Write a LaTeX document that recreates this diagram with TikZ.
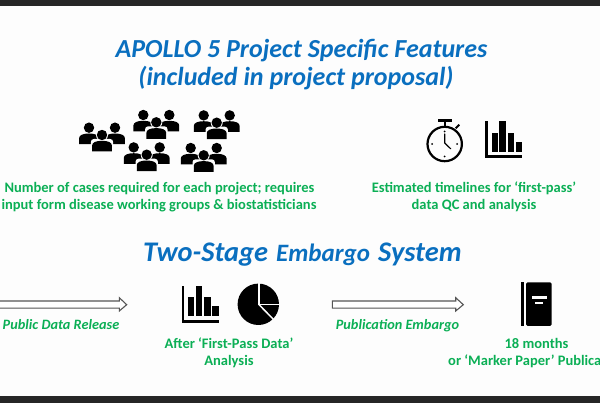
\documentclass[tikz,border=0pt]{standalone}
\usepackage{fontspec}
\setmainfont{Carlito}
\definecolor{ablue}{HTML}{0A6FBF}
\definecolor{agreen}{HTML}{0BAF55}
\definecolor{abar}{HTML}{262626}
\definecolor{apaper}{HTML}{FDFDFD}
\definecolor{aarrow}{HTML}{555555}
\tikzset{
  x=1pt,y=-1pt,
  titletext/.style={text=ablue,font=\fontsize{26}{26}\selectfont\bfseries\itshape,inner sep=0pt,anchor=base},
  wordbig/.style={text=ablue,font=\fontsize{28.4}{28}\selectfont\bfseries\itshape,inner sep=0pt,anchor=base west},
  wordsmall/.style={text=ablue,font=\fontsize{25}{25}\selectfont\bfseries\itshape,inner sep=0pt,anchor=base west},
  greentext/.style={text=agreen,font=\fontsize{14.5}{18}\selectfont\bfseries,inner sep=0pt,anchor=base},
  greenital/.style={text=agreen,font=\fontsize{14.3}{18}\selectfont\bfseries\itshape,inner sep=0pt,anchor=base},
  blockarrow/.style={draw=aarrow,line width=1.1pt,fill=white,line join=miter},
  person/.pic={
    \fill[black] (0,0) circle (5.2);
    \fill[black] (-9.9,16.5) -- (-9.9,10.5) .. controls (-9.9,7.5) and (-6,5.8) .. (0,5.8) .. controls (6,5.8) and (9.9,7.5) .. (9.9,10.5) -- (9.9,16.5) -- cycle;
  },
  people/.pic={
    \pic at (-13,-7.3) {person};
    \pic at (13,-7.3) {person};
    \fill[apaper] (0,0) circle (6);
    \fill[apaper,rounded corners=3pt] (-11.2,4) rectangle (11.2,18);
    \pic at (0,0) {person};
  },
  barchart/.pic={
    \fill[black] (0,0) rectangle (2.5,37);
    \fill[black] (0,34.2) rectangle (36.9,37);
    \fill[black] (6.5,11.3) rectangle (12.5,30.5);
    \fill[black] (14.2,0) rectangle (20.5,30.5);
    \fill[black] (22.5,11.6) rectangle (28.8,30.5);
    \fill[black] (30.5,20.6) rectangle (36.9,30.5);
  }
}
\begin{document}
\begin{tikzpicture}
\useasboundingbox (0,0) rectangle (600,403);
\clip (0,0) rectangle (600,403);
\fill[apaper] (0,0) rectangle (600,403);
\fill[abar] (0,0) rectangle (600,6.5);
\fill[abar] (0,396) rectangle (600,403);

\node[titletext] (title1) at (301.5,58) {APOLLO 5 Project Specific Features};
\node[titletext] (title2) at (296,86) {(included in project proposal)};

\pic at (102,135) {people};
\pic at (156.3,122.3) {people};
\pic at (216.7,122.7) {people};
\pic at (146.7,154.7) {people};
\pic at (203.7,155.3) {people};

% stopwatch
\fill[black] (438,119) rectangle (452,121.7);
\fill[black] (443.6,121) rectangle (445.8,126);
\draw[black,line width=1.8pt,rotate around={45:(457.5,126.5)}] (455,126.5) -- (460,126.5);
\draw[black,line width=2.2pt,fill=apaper] (444.7,144) circle (17.2);
\draw[black,line width=1.2pt,line cap=round,line join=round] (444.7,134) -- (444.7,143) -- (450.7,148.8);
\foreach \a in {0,90,180,270}{\fill[black] (444.7,144) ++(\a:-12.5) circle (1);}

\pic at (485,121.3) {barchart};

\node[greentext] (need1) at (159.5,192.7) {Number of cases required for each project; requires};
\node[greentext] (need2) at (159,209.5) {input form disease working groups \& biostatisticians};
\node[greentext] (time1) at (474,192.7) {Estimated timelines for ‘first-pass’};
\node[greentext] (time2) at (474,209.5) {data QC and analysis};

\node[wordbig] (title3a) at (143,261.5) {Two-Stage};
\node[wordsmall] (title3b) at (276,261.5) {Embargo};
\node[wordbig] (title3c) at (378,261.5) {System};

% left arrow
\draw[blockarrow] (-5,301) -- (119.3,301) -- (119.3,297.7) -- (126.7,304.7) -- (119.3,311) -- (119.3,308.2) -- (-5,308.2) -- cycle;
\node[greenital] (release) at (61,329.3) {Public Data Release};

\pic at (181.7,285.7) {barchart};
% pie
\fill[black] (258.3,304.3) circle (20.7);
\draw[apaper,line width=1.5pt] (259,282) -- (259,304.6) -- (281,304.6);
\draw[apaper,line width=1.5pt] (259,304.6) -- (274.5,320.5);
\node[greentext] (after1) at (229,349) {After ‘First-Pass Data’};
\node[greentext] (after2) at (229,365.7) {Analysis};

% right arrow
\draw[blockarrow] (332.3,301) -- (455.7,301) -- (455.7,297.7) -- (463.3,304.7) -- (455.7,311) -- (455.7,308.2) -- (332.3,308.2) -- cycle;
\node[greenital] (embargo) at (397.5,329.3) {Publication Embargo};

% book
\fill[black] (521,282.3) rectangle (524,326);
\fill[black,rounded corners=1.5pt] (526,282.3) rectangle (551.7,326);
\fill[apaper] (531.7,296) rectangle (546.7,299);
\fill[apaper] (535,302.3) rectangle (543,304.3);
\node[greentext] (months) at (536.5,349) {18 months};
\node[greentext,anchor=base west] (marker) at (448,365.7) {or ‘Marker Paper’ Publica};
\end{tikzpicture}
\end{document}
